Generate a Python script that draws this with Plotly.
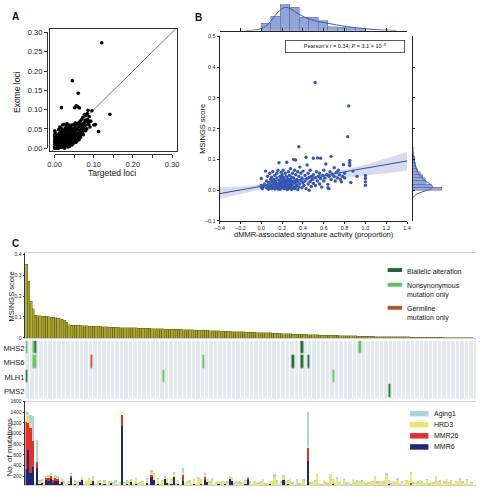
import plotly.graph_objects as go

W, H = 483, 490
FONT = "Liberation Sans, Arial, sans-serif"


def fx(p):
    return p / W


def fy(p):
    return 1 - p / H


# ---------------- Panel A data (Targeted loci vs Exome loci) ----------------
a_targeted = [
    0, 0, 0, 0, 0, 0, 0, 0, 0, .001,
    .002, .003, .004, .005, .005, .006, .007, .007, .008, .009, .010, .010, .010, .011, .011,
    .012, .013, .013, .014, .015, .015, .016, .016, .017, .017, .018, .018, .019, .020, .020,
    .021, .022, .022, .023, .024, .024, .025, .025, .026, .027, .027, .028, .029, .029, .030, .030, .030,
    .031, .032, .032, .033, .034, .034, .035, .035, .036, .037, .037, .038, .039, .039, .040, .040,
    .041, .042, .042, .043, .044, .044, .045, .045, .046, .047, .048, .048, .049, .050, .050,
    .051, .052, .052, .053, .054, .055, .055, .056, .057, .058, .058, .059, .060, .060, .060,
    .061, .062, .063, .064, .065, .066, .067, .068, .069, .070, .070,
    .072, .073, .074, .075, .076, .077, .078, .080, .080, .082, .083, .084, .085, .086, .088, .090,
    .095, .100, .104, .112, .120, .141,
    .003, .006, .008, .009, .012, .014, .015, .017, .019, .021,
    .023, .024, .026, .028, .031, .033, .036, .038, .041, .043,
    .046, .047, .049, .051, .053, .056, .059, .062, .064, .066,
    .068, .071, .073, .076, .079, .081, .087, .092,
]
a_exome = [
    0, .005, .010, .015, .020, .025, .030, .035, .045, .040,
    .002, .008, .012, 0, .018, .026, .004, .033, .014, .021, .006, .048, .030, .001, .038,
    .011, .020, .055, .003, .028, .042, .008, .016, .105, .034, .050, .002, .024, .012, .060,
    .040, .018, .006, .030, .046, .062, .022, 0, .036, .014, .052, .026, .008, .042, .056, .018, .032,
    .064, .012, .046, .024, .038, .003, .052, .020, .030, .060, .010, .042, .026, .050, .016, .035,
    .055, .022, .045, .032, .008, .060, .040, .175, .028, .050, .018, .035, .062, .044, .025,
    .105, .030, .056, .040, .015, .048, .110, .035, .060, .025, .050, .107, .040, .142, .065,
    .030, .055, .104, .045, .070, .035, .058, .050, .075, .040, .062,
    .080, .055, .045, .066, .087, .050, .072, .085, .060, .050, .090, .075, .098, .068, .082, .055,
    .097, .060, .061, .043, .273, .088,
    .020, .010, .028, .000, .025, .035, .005, .012, .045, .028,
    .010, .016, .004, .048, .022, .032, .014, .005, .010, .048,
    .020, .012, .030, .022, .065, .018, .032, .022, .062, .028,
    .040, .048, .035, .058, .045, .070, .062, .070,
]
a_ticks = [0.0, 0.1, 0.2, 0.3]
identity_line = [-0.02, 0.32]

# ---------------- Panel B data ----------------
b_activity = [
    0, 0, 0, .01, .02, .03, .04, .05, .05, .06, .06, .07, .07, .08, .08, .09, .09, .10, .10, .10,
    .11, .11, .12, .12, .13, .13, .14, .14, .15, .15, .15, .16, .16, .17, .17, .17, .18, .18, .18, .19, .19, .19, .20, .20, .20, .20,
    .21, .21, .21, .22, .22, .22, .23, .23, .23, .24, .24, .245, .25, .25, .25, .26, .26, .26, .27, .27, .27, .28, .28, .28, .29, .29, .29, .30, .30, .30,
    .31, .31, .31, .32, .32, .32, .33, .33, .33, .34, .34, .35, .35, .35, .36, .36, .36, .37, .37, .38, .38, .39, .39, .40, .40,
    .41, .42, .42, .43, .43, .44, .44, .45, .45, .46, .46, .47, .47, .48, .48, .49, .50, .50, .50,
    .517, .52, .52, .53, .54, .54, .55, .56, .56, .57, .57, .58, .59, .60, .60,
    .61, .62, .63, .64, .64, .65, .65, .66, .67, .67, .68, .70, .70, .71, .72, .73, .74, .75, .76, .77, .78, .79, .80, .80,
    .83, .84, .85, .85, .85, .86, .88, .92, 1.0, 1.0, 1.0, 1.0,
    .12, .14, .16, .18, .20, .22, .24, .26, .28, .30, .13, .15, .17, .19, .21, .23, .25, .27, .29, .33,
]
b_msings = [
    .038, .010, .015, .005, .012, .020, .062, .008, .030, .015, .045, .003, .025, .055, .010, .035, .018, .005, .042, .028,
    .012, .060, .022, .035, .004, .048, .015, .030, .008, .055, .040, .020, .065, .089, .010, .032, .025, .045, .003, .014, .038, .058, .020, .008, .050, .030,
    .012, .042, .065, .025, .005, .035, .018, .055, .028, .010, .045, .091, .022, .038, .002, .015, .060, .030, .008, .048, .025, .018, .035, .070, .012, .042, .003, .028, .055, .020,
    .100, .010, .040, .030, .065, .005, .022, .050, .098, .015, .035, .060, .002, .027, .141, .045, .010, .020, .075, .032, .055, .008, .040, .025, .062,
    .015, .048, .030, .107, .005, .038, .082, .020, .055, .000, .042, .028, .065, .012, .045, .035, .104, .022, .050,
    .350, .040, .015, .060, .105, .030, .045, .020, .055, .104, .038, .010, .048, .030, .065,
    .040, .085, .050, .019, .008, .005, .045, .060, .110, .035, .052, .073, .045, .030, .058, .040, .065, .050, .035, .027, .045, .083, .040, .055,
    .174, .274, .097, .088, .080, .025, .062, .045, .048, .038, .027, .016,
    .008, .022, .004, .018, .014, .012, .030, .006, .026, .010, .028, .018, .020, .024, .030, .008, .014, .034, .020, .012,
]
# regression line and its confidence band
reg_x = [-0.4, 1.4]
reg_y = [-0.011, 0.095]
band_x = [-0.4, -0.2, 0.0, 0.2, 0.4, 0.6, 0.8, 1.0, 1.2, 1.4]
band_lo = [-0.028, -0.012, 0.003, 0.016, 0.026, 0.034, 0.041, 0.047, 0.055, 0.064]
band_hi = [0.008, 0.012, 0.019, 0.028, 0.040, 0.053, 0.067, 0.083, 0.103, 0.124]
pearson_text = "Pearson’s <i>r</i> = 0.34; <i>P</i> = 3.1 × 10<sup>–8</sup>"

# marginal histogram on top (signature activity)
top_bin_left = [0.0, 0.0909, 0.1818, 0.2727, 0.3636, 0.4545, 0.5455, 0.6364, 0.7273, 0.8182, 0.9091]
top_bin_height = [22, 43, 95, 70, 40, 40, 30, 12, 10, 8, 5]
top_bin_width = 0.0909
top_kde_x = [-0.15, -0.05, 0.04, 0.09, 0.14, 0.19, 0.236, 0.29, 0.355, 0.42, 0.48, 0.55, 0.635, 0.72, 0.82, 0.92, 1.01, 1.1, 1.2, 1.3]
top_kde_y = [0, 2, 12, 28, 48, 64, 70, 64, 50, 40, 32, 27, 22, 17, 12, 8, 5, 2.5, 1, 0]

# marginal histogram on right (MSINGS score)
right_bin_center = [0.005, 0.015, 0.025, 0.035, 0.045, 0.055, 0.065, 0.075, 0.085, 0.095, 0.105]
right_bin_length = [88, 55, 40, 38, 30, 22, 15, 10, 8, 6, 5]
right_kde_y = [-0.025, -0.015, -0.005, 0.005, 0.012, 0.02, 0.03, 0.04, 0.05, 0.06, 0.08, 0.10, 0.12, 0.14]
right_kde_x = [0, 8, 30, 55, 60, 52, 38, 28, 20, 14, 7, 3, 1, 0]

# ---------------- Panel C data ----------------
c_msings = [
    0.352, 0.271, 0.175, 0.140, 0.108, 0.106, 0.105, 0.104, 0.103, 0.102,
    0.100, 0.099, 0.098, 0.095, 0.093, 0.091, 0.088, 0.085, 0.075, 0.063,
    0.061, 0.060, 0.060, 0.059, 0.059, 0.058, 0.058, 0.057, 0.056, 0.056,
    0.055, 0.055, 0.054, 0.054, 0.053, 0.052, 0.052, 0.051, 0.051, 0.050,
    0.050, 0.050, 0.049, 0.049, 0.049, 0.048, 0.048, 0.048, 0.047, 0.047,
    0.046, 0.046, 0.046, 0.045, 0.045, 0.045, 0.044, 0.044, 0.044, 0.043,
    0.043, 0.043, 0.042, 0.042, 0.042, 0.041, 0.041, 0.040, 0.040, 0.040,
    0.039, 0.039, 0.038, 0.038, 0.038, 0.037, 0.037, 0.036, 0.036, 0.036,
    0.035, 0.035, 0.034, 0.034, 0.033, 0.033, 0.033, 0.032, 0.032, 0.031,
    0.031, 0.031, 0.030, 0.030, 0.029, 0.029, 0.028, 0.028, 0.027, 0.027,
    0.027, 0.026, 0.026, 0.025, 0.025, 0.024, 0.024, 0.024, 0.023, 0.023,
    0.022, 0.022, 0.021, 0.021, 0.020, 0.020, 0.020, 0.019, 0.019, 0.018,
    0.018, 0.017, 0.017, 0.016, 0.016, 0.016, 0.015, 0.015, 0.014, 0.014,
    0.014, 0.013, 0.013, 0.013, 0.012, 0.012, 0.012, 0.011, 0.011, 0.011,
    0.010, 0.010, 0.010, 0.010, 0.009, 0.009, 0.009, 0.009, 0.008, 0.008,
    0.008, 0.008, 0.007, 0.007, 0.007, 0.007, 0.006, 0.006, 0.006, 0.006,
    0.006, 0.005, 0.005, 0.005, 0.005, 0.005, 0.004, 0.004, 0.004, 0.004,
    0.004, 0.004, 0.003, 0.003, 0.003, 0.003, 0.003, 0.003, 0.003, 0.002,
    0.002, 0.002, 0.002, 0.002, 0.002, 0.002, 0.002, 0.001, 0.001, 0.001,
    0.001, 0.001, 0.001, 0.001, 0.001, 0.001, 0.0005, 0.0005, 0.0005, 0.0005,
]
N = len(c_msings)
samples = list(range(N))

genes = ["MHS2", "MHS6", "MLH1", "PMS2"]
# alteration events per gene: (sample index, type) 1=biallelic, 2=nonsynonymous only, 3=germline only
gene_events = {
    "MHS2": [(0, 2), (3, 2), (4, 1), (123, 1), (149, 2)],
    "MHS6": [(3, 2), (4, 2), (29, 3), (79, 2), (119, 1), (123, 1), (126, 1)],
    "MLH1": [(0, 1), (61, 2), (137, 2)],
    "PMS2": [(162, 1)],
}
event_names = ["Biallelic alteration", "Nonsynonymous<br>mutation only", "Germline<br>mutation only"]
event_colors = ["#1f6b37", "#5ec35b", "#b4552b"]

mmr6 = [
    330, 700, 250, 380, 0, 350, 60, 90, 40, 120, 100, 150, 80, 130, 110, 60, 90, 40, 0, 70,
    180, 0, 50, 0, 90, 120, 0, 40, 0, 60, 100, 0, 0, 80, 0, 50, 0, 0, 70, 0,
    0, 0, 40, 1150, 0, 60, 0, 90, 0, 50, 0, 0, 40, 0, 70, 0, 200, 130, 0, 60,
    0, 40, 150, 80, 0, 60, 190, 0, 50, 0, 100, 0, 40, 0, 0, 60, 0, 0, 50, 0,
    150, 90, 0, 40, 0, 0, 60, 0, 0, 50, 0, 150, 110, 0, 0, 40, 0, 0, 60, 140,
    0, 0, 0, 40, 0, 0, 30, 0, 0, 50, 0, 0, 40, 0, 0, 130, 0, 60, 0, 0,
    0, 40, 0, 0, 30, 0, 480, 0, 0, 40, 0, 0, 0, 30, 0, 0, 0, 50, 0, 0,
    0, 0, 40, 0, 0, 0, 30, 0, 0, 0, 40, 0, 0, 0, 0, 30, 0, 0, 40, 0,
    0, 0, 60, 0, 0, 0, 30, 0, 0, 0, 40, 0, 0, 0, 0, 30, 0, 0, 0, 40,
    0, 0, 0, 0, 30, 0, 0, 0, 40, 0, 0, 0, 0, 30, 0, 0, 0, 40, 0, 0,
]
mmr26 = [
    890, 500, 850, 500, 0, 130, 0, 0, 0, 40, 60, 70, 40, 30, 50, 0, 0, 0, 0, 0,
    30, 0, 0, 0, 0, 0, 0, 0, 0, 0, 0, 0, 0, 0, 0, 0, 0, 0, 0, 0,
    0, 0, 0, 220, 0, 0, 0, 0, 0, 0, 0, 0, 0, 0, 0, 0, 20, 0, 0, 0,
    0, 0, 0, 0, 0, 0, 0, 0, 0, 0, 140, 0, 0, 0, 0, 0, 0, 0, 0, 0,
    30, 0, 0, 0, 0, 0, 0, 0, 0, 0, 0, 0, 0, 0, 0, 0, 0, 0, 0, 20,
    0, 0, 0, 0, 0, 0, 0, 0, 0, 0, 0, 0, 0, 0, 0, 0, 0, 0, 0, 0,
    0, 0, 0, 0, 0, 0, 260, 0, 0, 0, 0, 0, 0, 0, 0, 0, 0, 0, 0, 0,
    0, 0, 0, 0, 0, 0, 0, 0, 40, 0, 0, 0, 0, 0, 0, 0, 0, 0, 0, 0,
    0, 0, 0, 0, 0, 0, 0, 0, 0, 0, 0, 0, 80, 0, 0, 0, 0, 0, 0, 0,
    0, 0, 0, 0, 0, 0, 0, 0, 0, 0, 30, 0, 0, 0, 0, 0, 0, 0, 0, 0,
]
hrd3 = [
    150, 150, 100, 20, 60, 10, 50, 30, 60, 40, 50, 30, 60, 40, 30, 50, 70, 40, 60, 30,
    40, 80, 50, 90, 40, 60, 30, 70, 160, 60, 90, 50, 110, 40, 80, 60, 50, 100, 40, 70,
    110, 60, 40, 30, 80, 50, 100, 40, 70, 110, 50, 90, 60, 40, 80, 50, 70, 120, 60, 100,
    50, 80, 40, 90, 60, 110, 80, 50, 70, 40, 30, 90, 60, 100, 50, 80, 60, 180, 70, 60,
    60, 50, 90, 110, 60, 80, 50, 70, 100, 60, 90, 40, 80, 60, 100, 50, 70, 90, 60, 40,
    80, 60, 100, 50, 70, 90, 120, 60, 80, 50, 100, 180, 70, 60, 90, 80, 110, 60, 140, 70,
    60, 90, 50, 80, 100, 60, 30, 70, 90, 60, 230, 80, 50, 100, 70, 60, 240, 90, 70, 160,
    80, 60, 100, 70, 90, 50, 110, 80, 60, 100, 70, 90, 60, 80, 110, 70, 210, 80, 60, 100,
    90, 230, 70, 60, 100, 80, 110, 70, 90, 60, 80, 100, 170, 70, 90, 60, 120, 80, 70, 100,
    60, 90, 80, 200, 70, 100, 60, 90, 110, 80, 70, 60, 100, 80, 140, 90, 70, 100, 60, 80,
]
aging1 = [
    60, 50, 150, 420, 20, 390, 10, 20, 0, 10, 20, 10, 0, 20, 10, 0, 10, 20, 0, 10,
    10, 0, 20, 10, 0, 10, 20, 0, 10, 0, 20, 10, 0, 10, 0, 20, 0, 10, 0, 10,
    20, 0, 10, 0, 10, 20, 0, 10, 0, 10, 20, 0, 10, 0, 10, 0, 20, 10, 0, 10,
    0, 10, 20, 0, 10, 0, 10, 20, 0, 10, 90, 0, 10, 20, 0, 10, 0, 10, 20, 0,
    10, 0, 20, 10, 0, 10, 0, 20, 10, 0, 10, 20, 0, 10, 0, 20, 10, 0, 10, 0,
    20, 0, 10, 0, 10, 20, 0, 10, 0, 10, 0, 60, 10, 0, 20, 10, 0, 10, 0, 10,
    0, 10, 20, 0, 10, 0, 630, 10, 0, 20, 10, 0, 10, 0, 20, 10, 0, 10, 0, 20,
    10, 0, 10, 20, 0, 10, 0, 10, 20, 0, 10, 0, 20, 10, 0, 10, 0, 20, 10, 0,
    10, 20, 0, 10, 0, 10, 20, 0, 10, 0, 10, 0, 20, 10, 0, 10, 0, 20, 0, 10,
    20, 0, 10, 0, 10, 20, 0, 10, 0, 10, 20, 0, 10, 0, 20, 10, 0, 10, 0, 10,
]
signatures = [("MMR6", mmr6, "#1b2a78"), ("MMR26", mmr26, "#e5312a"),
              ("HRD3", hrd3, "#f0e66c"), ("Aging1", aging1, "#a8d5e5")]
sig_legend_order = ["Aging1", "HRD3", "MMR26", "MMR6"]

for arr in (mmr6, mmr26, hrd3, aging1):
    assert len(arr) == N, len(arr)
assert len(a_targeted) == len(a_exome)
assert len(b_activity) == len(b_msings)

# ---------------- Figure ----------------
fig = go.Figure()

# Panel A
fig.add_trace(go.Scatter(x=identity_line, y=identity_line, mode="lines",
                         line=dict(color="#555555", width=0.8), xaxis="x", yaxis="y",
                         showlegend=False, hoverinfo="skip"))
fig.add_trace(go.Scatter(x=a_targeted, y=a_exome, mode="markers",
                         marker=dict(color="black", size=3.6), xaxis="x", yaxis="y",
                         showlegend=False))
fig.add_trace(go.Scatter(x=[], y=[], xaxis="x3", yaxis="y3", showlegend=False))

# Panel B
fig.add_trace(go.Scatter(x=band_x, y=band_lo, mode="lines", line=dict(width=0),
                         xaxis="x2", yaxis="y2", showlegend=False, hoverinfo="skip"))
fig.add_trace(go.Scatter(x=band_x, y=band_hi, mode="lines", line=dict(width=0),
                         fill="tonexty", fillcolor="rgba(120,135,200,0.30)",
                         xaxis="x2", yaxis="y2", showlegend=False, hoverinfo="skip"))
fig.add_trace(go.Scatter(x=reg_x, y=reg_y, mode="lines", line=dict(color="#2d4fa5", width=1),
                         xaxis="x2", yaxis="y2", showlegend=False))
fig.add_trace(go.Scatter(x=b_activity, y=b_msings, mode="markers",
                         marker=dict(color="#3656b3", size=3.4), xaxis="x2", yaxis="y2",
                         showlegend=False))
# top marginal
fig.add_trace(go.Bar(x=top_bin_left, y=top_bin_height, width=top_bin_width, offset=0,
                     marker=dict(color="rgba(110,135,205,0.75)", line=dict(color="#5a6aa0", width=0.5)),
                     xaxis="x4", yaxis="y4", showlegend=False))
fig.add_trace(go.Scatter(x=top_kde_x, y=top_kde_y, mode="lines", line=dict(color="#3a58b5", width=1, shape="spline"),
                         xaxis="x4", yaxis="y4", showlegend=False))
# right marginal
fig.add_trace(go.Bar(y=right_bin_center, x=right_bin_length, orientation="h", width=0.01,
                     marker=dict(color="rgba(110,135,205,0.75)", line=dict(color="#5a6aa0", width=0.5)),
                     xaxis="x5", yaxis="y5", showlegend=False))
fig.add_trace(go.Scatter(x=right_kde_x, y=right_kde_y, mode="lines", line=dict(color="#3a58b5", width=1, shape="spline"),
                         xaxis="x5", yaxis="y5", showlegend=False))

# Panel C top: MSINGS scores
fig.add_trace(go.Bar(x=samples, y=c_msings, width=1.0,
                     marker=dict(color="#a9a530", line=dict(color="#5e5c12", width=0.45)),
                     xaxis="x6", yaxis="y6", showlegend=False))

# Panel C middle: alteration heatmap
z = []
for g in genes:
    row = [None] * N
    for idx, kind in gene_events[g]:
        row[idx] = kind
    z.append(row)
fig.add_trace(go.Heatmap(z=z, x=samples, y=genes, zmin=1, zmax=3,
                         colorscale=[[0, event_colors[0]], [0.33, event_colors[0]],
                                     [0.34, event_colors[1]], [0.66, event_colors[1]],
                                     [0.67, event_colors[2]], [1, event_colors[2]]],
                         showscale=False, ygap=1.6, xgap=0.2, xaxis="x7", yaxis="y7"))

# Panel C bottom: stacked signature bars
for name, vals, col in signatures:
    fig.add_trace(go.Bar(x=samples, y=vals, width=0.6, name=name, marker=dict(color=col, line=dict(width=0)),
                         xaxis="x8", yaxis="y8", showlegend=False))

tickfont_small = dict(family=FONT, size=5.5, color="#222")
xr = [-0.5, N + 0.8]

layout = dict(
    width=W, height=H, margin=dict(l=0, r=0, t=0, b=0),
    paper_bgcolor="white", plot_bgcolor="rgba(0,0,0,0)",
    barmode="stack", showlegend=False,
    font=dict(family=FONT, color="#222"),
    # Panel A box
    xaxis=dict(domain=[fx(44), fx(175)], range=[-0.013, 0.3125], anchor="y",
               showline=True, mirror=True, linecolor="#333", linewidth=0.8,
               ticks="", showticklabels=False, showgrid=False, zeroline=False),
    yaxis=dict(domain=[fy(150), fy(25)], range=[-0.008, 0.31], anchor="x",
               showline=True, mirror=True, linecolor="#333", linewidth=0.8,
               ticks="", showticklabels=False, showgrid=False, zeroline=False),
    # Panel A detached axes
    xaxis3=dict(domain=[fx(49), fx(170)], range=[0, 0.3], anchor="free", position=fy(153),
                showline=True, linecolor="#333", linewidth=0.8, ticks="outside", ticklen=3,
                tickwidth=0.8, tickcolor="#333", tickvals=a_ticks, tickformat=".2f",
                minor=dict(dtick=0.05, ticks="outside", ticklen=3, tickwidth=0.8, tickcolor="#333"),
                tickfont=dict(family=FONT, size=7.5, color="#222"), showgrid=False, zeroline=False),
    yaxis3=dict(domain=[fy(147), fy(29)], range=[0, 0.3], anchor="free", position=fx(41),
                showline=True, linecolor="#333", linewidth=0.8, ticks="outside", ticklen=3,
                tickwidth=0.8, tickcolor="#333", dtick=0.05, tickformat=".2f",
                tickfont=dict(family=FONT, size=7.5, color="#222"), showgrid=False, zeroline=False),
    # Panel B main
    xaxis2=dict(domain=[fx(219), fx(412)], range=[-0.4, 1.4], anchor="y2", dtick=0.2, tickformat=".1f",
                showline=True, linecolor="#222", linewidth=0.9, ticks="outside", ticklen=2,
                tickcolor="#222", tickfont=tickfont_small, showgrid=False, zeroline=False),
    yaxis2=dict(domain=[fy(221), fy(33)], range=[-0.1, 0.5], anchor="x2", dtick=0.1, tickformat=".1f",
                showline=True, linecolor="#222", linewidth=0.9, ticks="outside", ticklen=2,
                tickcolor="#222", tickfont=tickfont_small, showgrid=False, zeroline=False),
    xaxis4=dict(domain=[fx(219), fx(412)], range=[-0.4, 1.4], anchor="y4", dtick=0.2,
                showline=True, linecolor="#222", linewidth=0.9, ticks="inside", ticklen=3,
                tickcolor="#222", showticklabels=False, showgrid=False, zeroline=False),
    yaxis4=dict(domain=[fy(27), 1.0], range=[0, 80], anchor="x4", visible=False),
    xaxis5=dict(domain=[fx(418), fx(452)], range=[0, 100], anchor="y5", visible=False),
    yaxis5=dict(domain=[fy(221), fy(33)], range=[-0.1, 0.5], anchor="x5", dtick=0.1,
                showline=True, linecolor="#222", linewidth=0.9, ticks="inside", ticklen=2,
                tickcolor="#222", showticklabels=False, showgrid=False, zeroline=False),
    # Panel C top
    xaxis6=dict(domain=[fx(19), 1.0], range=xr, anchor="y6", showline=True, mirror=True,
                linecolor="#cfcfcf", linewidth=0.8, ticks="", showticklabels=False,
                showgrid=False, zeroline=False),
    yaxis6=dict(domain=[fy(340), fy(254)], range=[0, 0.405], anchor="x6", dtick=0.1,
                showline=True, linecolor="#333", linewidth=0.8, ticks="outside", ticklen=2,
                tickcolor="#333", tickfont=dict(family=FONT, size=5, color="#222"),
                showgrid=False, zeroline=False),
    # Panel C heatmap
    xaxis7=dict(domain=[fx(19), 1.0], range=xr, anchor="y7", showline=False, ticks="",
                showticklabels=False, showgrid=True, gridcolor="rgba(255,255,255,0.85)",
                gridwidth=0.7, tick0=-0.5, dtick=2, zeroline=False),
    yaxis7=dict(domain=[fy(402), fy(343)], anchor="x7", type="category",
                categoryorder="array", categoryarray=genes[::-1], ticks="",
                showline=False, showgrid=False, zeroline=False,
                tickfont=dict(family=FONT, size=7.5, color="#222")),
    # Panel C bottom
    xaxis8=dict(domain=[fx(19), 1.0], range=xr, anchor="y8", showline=True, mirror=True,
                linecolor="#cfcfcf", linewidth=0.8, ticks="", showticklabels=False,
                showgrid=False, zeroline=False),
    yaxis8=dict(domain=[0, fy(405)], range=[34, 1600], anchor="x8", dtick=200,
                showline=True, linecolor="#333", linewidth=0.8, ticks="outside", ticklen=2,
                tickcolor="#333", tickfont=dict(family=FONT, size=5, color="#222"),
                showgrid=False, zeroline=False),
)
fig.update_layout(**layout)

shapes = [
    dict(type="rect", xref="x7 domain", yref="y7 domain", x0=0, x1=1, y0=0, y1=1,
         fillcolor="#e3e9ec", line=dict(width=0), layer="below"),
]
ann = []


def text(x, y, s, size, angle=0, bold=False, xanchor="center", yanchor="middle", align="center"):
    ann.append(dict(x=fx(x), y=fy(y), xref="paper", yref="paper", text=("<b>%s</b>" % s) if bold else s,
                    showarrow=False, textangle=angle, xanchor=xanchor, yanchor=yanchor, align=align,
                    font=dict(family=FONT, size=size, color="#111")))


# panel letters
text(3, 13, "A", 10, bold=True, xanchor="left")
text(192, 14, "B", 10, bold=True, xanchor="left")
text(3, 244, "C", 10, bold=True, xanchor="left")
# axis titles
text(11, 90, "Exome loci", 8.5, angle=-90)
text(108, 172, "Targeted loci", 8.5)
text(202, 127, "MSINGS score", 7.5, angle=-90)
text(316, 235, "dMMR-associated signature activity (proportion)", 7.5)
text(5, 298, "MSINGS score", 7.5, angle=-90)
text(3, 452, "No. of mutations", 8, angle=-90)

# Pearson box
ann.append(dict(x=fx(348), y=fy(43.5), xref="paper", yref="paper", text=pearson_text, showarrow=False,
                xanchor="center", yanchor="middle", width=118, height=11, borderpad=0,
                bordercolor="#333", borderwidth=0.8, font=dict(family=FONT, size=5.5, color="#111")))

# legend for alterations
leg_rows = [271, 286, 309.5]
for name, col, yrow in zip(event_names, event_colors, leg_rows):
    shapes.append(dict(type="rect", xref="paper", yref="paper", x0=fx(392), x1=fx(407),
                       y0=fy(yrow + 2), y1=fy(yrow - 2), fillcolor=col, line=dict(width=0)))
    text(409.5, yrow - 4.5, name, 7, xanchor="left", yanchor="top", align="left")

# legend for signatures
sig_colors = {n: c for n, _, c in signatures}
for k, name in enumerate(sig_legend_order):
    yrow = 417.3 + k * 11.3
    shapes.append(dict(type="rect", xref="paper", yref="paper", x0=fx(415), x1=fx(434),
                       y0=fy(yrow + 2.8), y1=fy(yrow - 2.8), fillcolor=sig_colors[name], line=dict(width=0)))
    text(437.5, yrow, name, 7, xanchor="left")

fig.update_layout(shapes=shapes, annotations=ann)
fig.write_html("out.html", config=dict(displayModeBar=False))
